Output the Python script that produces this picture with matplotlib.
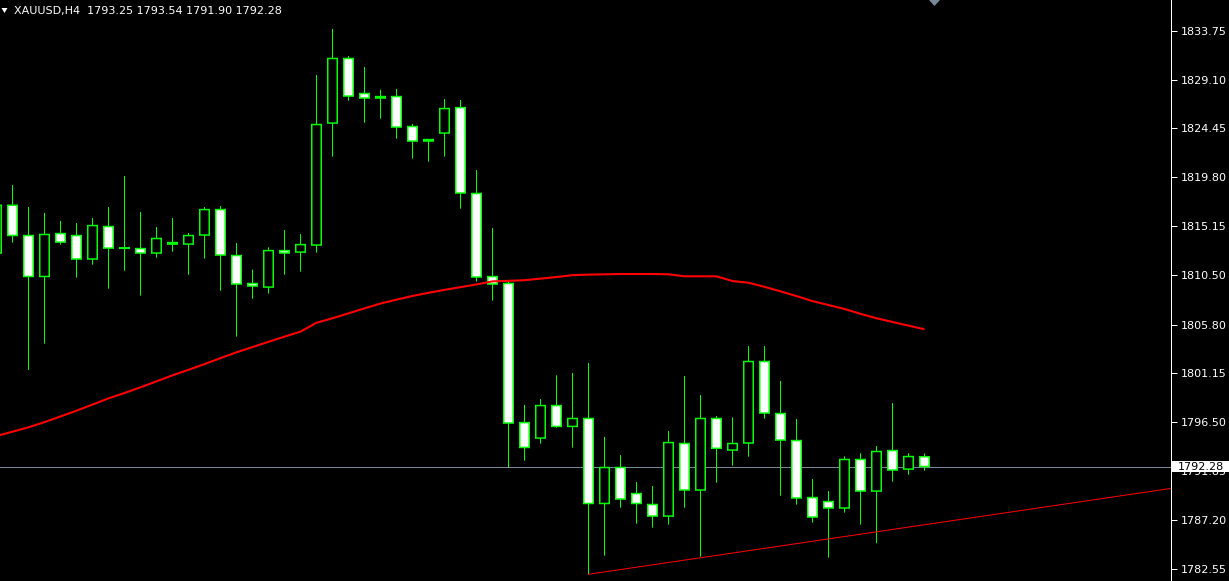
import numpy as np
import matplotlib
matplotlib.use("Agg")
import matplotlib.pyplot as plt
from matplotlib.patches import Rectangle, Polygon
from matplotlib.transforms import blended_transform_factory

# ---- data (XAUUSD H4) ----
symbol = "XAUUSD,H4"
last_ohlc = ["1793.25", "1793.54", "1791.90", "1792.28"]

bars = list(range(-1, 58))
opens = [1812.58, 1817.17, 1814.29, 1810.35, 1814.48, 1814.29, 1812.01, 1815.15, 1813.08, 1813.05,
         1812.58, 1813.62, 1813.43, 1814.29, 1816.76, 1812.39, 1809.73, 1809.34, 1812.86, 1812.67,
         1813.34, 1824.94, 1831.13, 1827.80, 1827.51, 1827.51, 1824.66, 1823.42, 1823.99, 1826.46,
         1818.29, 1810.39, 1809.73, 1796.50, 1794.98, 1798.12, 1796.09, 1796.89, 1788.76, 1792.23,
         1789.75, 1788.71, 1787.56, 1794.51, 1790.04, 1796.89, 1793.84, 1794.51, 1802.31, 1797.36,
         1794.79, 1789.37, 1788.99, 1788.33, 1792.99, 1789.94, 1793.84, 1792.03, 1793.25]
highs = [1817.65, 1819.07, 1816.98, 1816.41, 1815.65, 1815.46, 1815.94, 1816.98, 1819.93, 1816.51,
         1815.08, 1815.94, 1814.51, 1816.98, 1817.08, 1813.56, 1811.02, 1813.15, 1814.79, 1814.41,
         1829.54, 1833.91, 1831.34, 1830.30, 1828.14, 1828.21, 1824.88, 1823.42, 1827.25, 1827.16,
         1820.50, 1814.98, 1809.88, 1798.15, 1798.72, 1800.98, 1801.19, 1802.15, 1795.11, 1793.39,
         1790.83, 1790.45, 1795.68, 1800.91, 1799.10, 1797.10, 1796.98, 1803.76, 1803.76, 1800.43,
         1796.82, 1791.11, 1789.97, 1793.27, 1793.56, 1794.25, 1798.34, 1793.56, 1793.54]
lows = [1812.13, 1813.59, 1801.48, 1803.98, 1813.40, 1810.26, 1811.49, 1809.21, 1810.92, 1808.55,
        1812.16, 1812.73, 1810.54, 1812.07, 1809.02, 1804.65, 1808.26, 1808.74, 1810.54, 1810.83,
        1812.64, 1821.77, 1827.09, 1825.00, 1825.38, 1823.48, 1821.58, 1821.29, 1821.77, 1816.82,
        1809.88, 1808.07, 1792.23, 1792.85, 1794.47, 1795.99, 1794.09, 1782.05, 1783.82, 1788.38,
        1786.86, 1786.48, 1786.77, 1788.38, 1783.72, 1790.76, 1792.38, 1793.23, 1796.85, 1789.52,
        1788.67, 1786.96, 1783.63, 1787.91, 1786.77, 1785.00, 1790.86, 1791.52, 1791.90]
closes = [1817.17, 1814.25, 1810.35, 1814.39, 1813.62, 1812.01, 1815.24, 1813.05, 1813.03, 1812.58,
          1814.01, 1813.43, 1814.29, 1816.76, 1812.39, 1809.63, 1809.44, 1812.86, 1812.58, 1813.43,
          1824.85, 1831.13, 1827.51, 1827.32, 1827.32, 1824.56, 1823.23, 1823.23, 1826.37, 1818.29,
          1810.30, 1809.63, 1796.41, 1794.09, 1798.12, 1796.09, 1796.89, 1788.76, 1792.23, 1789.18,
          1788.76, 1787.56, 1794.60, 1790.04, 1796.89, 1794.01, 1794.51, 1802.31, 1797.36, 1794.79,
          1789.28, 1787.47, 1788.33, 1792.99, 1789.94, 1793.75, 1791.94, 1793.27, 1792.28]
ma_values = [1795.20, 1795.61, 1796.03, 1796.52, 1797.06, 1797.61, 1798.19, 1798.78, 1799.29, 1799.83,
             1800.40, 1800.97, 1801.50, 1802.04, 1802.61, 1803.16, 1803.66, 1804.16, 1804.65, 1805.13,
             1805.97, 1806.40, 1806.87, 1807.34, 1807.80, 1808.17, 1808.52, 1808.82, 1809.10, 1809.36,
             1809.62, 1809.91, 1809.96, 1810.02, 1810.17, 1810.32, 1810.50, 1810.55, 1810.58, 1810.61,
             1810.61, 1810.61, 1810.58, 1810.39, 1810.39, 1810.39, 1809.94, 1809.78, 1809.39, 1808.96,
             1808.51, 1808.03, 1807.66, 1807.28, 1806.82, 1806.40, 1806.05, 1805.70, 1805.35]

trend_bars = [36, 43]
trend_prices = [1782.05, 1783.62]

price_ticks = [1833.75, 1829.10, 1824.45, 1819.80, 1815.15, 1810.50, 1805.80,
               1801.15, 1796.50, 1791.85, 1787.20, 1782.55]
current_price = 1792.28

# ---- styling ----
BG = "black"
GREEN = "#00ff00"
GRID = "#778899"
W, H = 1229, 581
axis_px = 1171
PX = 0.72  # one pixel in points at 100 dpi
YMIN, YMAX = 1781.41, 1836.67
px_x = 1 / 16.0                 # one pixel in bar units
px_y = (YMAX - YMIN) / H        # one pixel in price units
edge = 1.5                      # outline thickness in pixels

fig = plt.figure(figsize=(W / 100, H / 100), dpi=100, facecolor=BG)
ax = fig.add_axes([0, 0, axis_px / W, 1])
ax.set_facecolor(BG)

x = np.array(bars, dtype=float)
o = np.array(opens); h = np.array(highs); l = np.array(lows); c = np.array(closes)

# wicks
ax.vlines(x, l, h, color=GREEN, linewidth=PX, zorder=2, snap=False)
# bodies: green outer block with inset fill -> visible outline
bw = 11 * px_x
for xi, oi, ci in zip(x, o, c):
    bottom = min(oi, ci)
    height = max(abs(ci - oi), px_y)
    face = "white" if ci < oi else "black"
    ax.add_patch(Rectangle((xi - bw / 2, bottom - px_y / 2), bw, height + px_y,
                           facecolor=GREEN, edgecolor="none", zorder=3, snap=False))
    inner_h = height + px_y - 2 * edge * px_y
    if inner_h > 0.3 * px_y:
        ax.add_patch(Rectangle((xi - bw / 2 + edge * px_x, bottom - px_y / 2 + edge * px_y),
                               bw - 2 * edge * px_x, inner_h, facecolor=face,
                               edgecolor="none", zorder=3.5, snap=False))

# moving average
ax.plot(x, ma_values, color="#ff0000", linewidth=1.5, zorder=4, solid_capstyle="butt")

# trend line (ray to the right)
slope = (trend_prices[1] - trend_prices[0]) / (trend_bars[1] - trend_bars[0])
x_end = 80
ax.plot([trend_bars[0], x_end], [trend_prices[0], trend_prices[0] + slope * (x_end - trend_bars[0])],
        color="#ff0000", linewidth=PX, zorder=4)

# current price line
ax.axhline(current_price, color=GRID, linewidth=PX, zorder=1)

# limits (bar centres on pixel centres)
xl = -12.5 / 16
xr = xl + axis_px / 16
ax.set_xlim(xl, xr)
ax.set_ylim(YMIN, YMAX)

# axes styling
for s in ["top", "bottom", "left"]:
    ax.spines[s].set_visible(False)
ax.spines["right"].set_color("white")
ax.spines["right"].set_linewidth(PX)
ax.set_xticks([])
ax.yaxis.tick_right()
ax.set_yticks(price_ticks)
ax.set_yticklabels([f"{t:.2f}" for t in price_ticks])
ax.tick_params(axis="y", colors="white", length=4, width=PX, pad=3, labelsize=8, direction="out")

# current price label box on the axis
tr = blended_transform_factory(ax.transAxes, ax.transData)
box_h = 11 * px_y
ax.add_patch(Rectangle((1.0 + 1 / axis_px, current_price - box_h / 2), 57 / axis_px, box_h,
                       transform=tr, facecolor="white", edgecolor="none", clip_on=False, zorder=10))
ax.text(1.0 + 7 / axis_px, current_price, f"{current_price:.2f}", transform=tr, color="black",
        fontsize=8, ha="left", va="center", clip_on=False, zorder=11)

# title
fig.text(14 / W, 1 - 11 / H, symbol + "  " + " ".join(last_ohlc), color="white",
         fontsize=8, ha="left", va="center")
fig.patches.append(Polygon([[1.5 / W, 1 - 8 / H], [7.5 / W, 1 - 8 / H], [4.5 / W, 1 - 13 / H]],
                           closed=True, transform=fig.transFigure, facecolor="white",
                           edgecolor="none", figure=fig))
# chart shift marker
fig.patches.append(Polygon([[929 / W, 1.0], [940 / W, 1.0], [934.5 / W, 1 - 6 / H]],
                           closed=True, transform=fig.transFigure, facecolor=GRID,
                           edgecolor="none", figure=fig))

fig.savefig("out.png", dpi=100, facecolor=BG)
